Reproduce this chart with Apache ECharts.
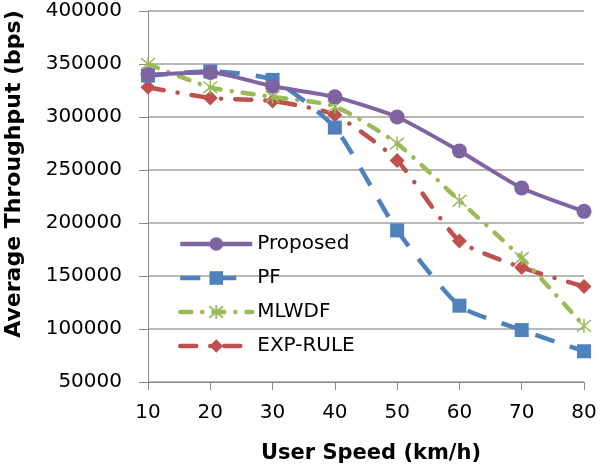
<!DOCTYPE html>
<html>
<head>
<meta charset="utf-8">
<script src="https://cdn.jsdelivr.net/npm/echarts@6/dist/echarts.min.js"></script>
<style>html,body{margin:0;padding:0;background:#fff}#c{width:600px;height:468px}</style>
</head>
<body>
<div id="c"></div>
<script>
const speeds = [10, 20, 30, 40, 50, 60, 70, 80];
const proposed = [340000, 342000, 329000, 319000, 300000, 268000, 233000, 211000];
const pf = [339000, 343000, 335000, 290000, 193000, 122000, 99000, 79000];
const mlwdf = [350000, 328000, 319000, 310000, 275000, 221000, 167000, 103000];
const expRule = [328000, 318000, 315000, 302000, 259000, 183000, 158000, 140000];
const seriesNames = ['Proposed', 'PF', 'MLWDF', 'EXP-RULE'];
const xTitle = 'User Speed (km/h)';
const yTitle = 'Average Throughput (bps)';

const FONT = 'DejaVu Sans';
const pairs = arr => speeds.map((s, i) => [s, arr[i]]);
const star = 'path://M0,0L10,10M10,0L0,10M5,-1L5,11';

const chart = echarts.init(document.getElementById('c'));
chart.setOption({
  animation: false,
  backgroundColor: '#fff',
  grid: { left: 148, right: 16, top: 11, bottom: 86, containLabel: false },
  graphic: [{
    type: 'text', rotation: Math.PI / 2, z: 10,
    x: 14, y: 174,
    style: {
      text: yTitle, fontFamily: FONT, fontSize: 22, fontWeight: 'bold', fill: '#000',
      align: 'center', verticalAlign: 'middle'
    }
  }, {
    type: 'text', z: 10,
    x: 371, y: 454,
    style: {
      text: xTitle, fontFamily: FONT, fontSize: 21, fontWeight: 'bold', fill: '#000',
      align: 'center', verticalAlign: 'middle'
    }
  }],
  legend: {
    orient: 'vertical', left: 178, top: 234, padding: 0,
    itemWidth: 72, itemHeight: 17, itemGap: 14,
    textStyle: { fontFamily: FONT, fontSize: 20, color: '#000', lineHeight: 20 },
    lineStyle: { width: 4.5 },
    data: seriesNames
  },
  xAxis: {
    type: 'value', min: 10, max: 80, interval: 10,
    axisLine: { show: true, lineStyle: { color: '#8c8c8c', width: 1 } },
    axisTick: { show: true, length: 8, lineStyle: { color: '#8c8c8c' } },
    axisLabel: { fontFamily: FONT, fontSize: 20, color: '#000', margin: 21 },
    splitLine: { show: false }
  },
  yAxis: {
    type: 'value', min: 50000, max: 400000, interval: 50000,
    axisLine: { show: true, lineStyle: { color: '#8c8c8c', width: 1 } },
    axisTick: { show: true, length: 9, lineStyle: { color: '#8c8c8c' } },
    axisLabel: { fontFamily: FONT, fontSize: 20, color: '#000', margin: 26, formatter: v => String(v) },
    splitLine: { show: true, lineStyle: { color: '#a0a0a0', width: 1.5 } }
  },
  series: [
    {
      name: 'Proposed', type: 'line', data: pairs(proposed), smooth: 0.2,
      symbol: 'circle', symbolSize: 15, z: 5,
      lineStyle: { color: '#8064A2', width: 4 },
      itemStyle: { color: '#8064A2' }
    },
    {
      name: 'PF', type: 'line', data: pairs(pf), smooth: 0.2,
      symbol: 'rect', symbolSize: 14, z: 4,
      lineStyle: { color: '#4F81BD', width: 4.5, type: [20, 16] },
      itemStyle: { color: '#4F81BD' }
    },
    {
      name: 'MLWDF', type: 'line', data: pairs(mlwdf), smooth: 0.2,
      symbol: star, symbolSize: 14, z: 3,
      lineStyle: { color: '#9BBB59', width: 4.5, type: [11, 11, 0.1, 11], cap: 'round' },
      itemStyle: { color: 'rgba(0,0,0,0)', borderColor: '#9BBB59', borderWidth: 1.5 }
    },
    {
      name: 'EXP-RULE', type: 'line', data: pairs(expRule), smooth: 0.2,
      symbol: 'diamond', symbolSize: 15, z: 2,
      lineStyle: { color: '#C0504D', width: 4.5, type: [16, 14, 0.1, 14], cap: 'round' },
      itemStyle: { color: '#C0504D' }
    }
  ]
});
</script>
</body>
</html>
